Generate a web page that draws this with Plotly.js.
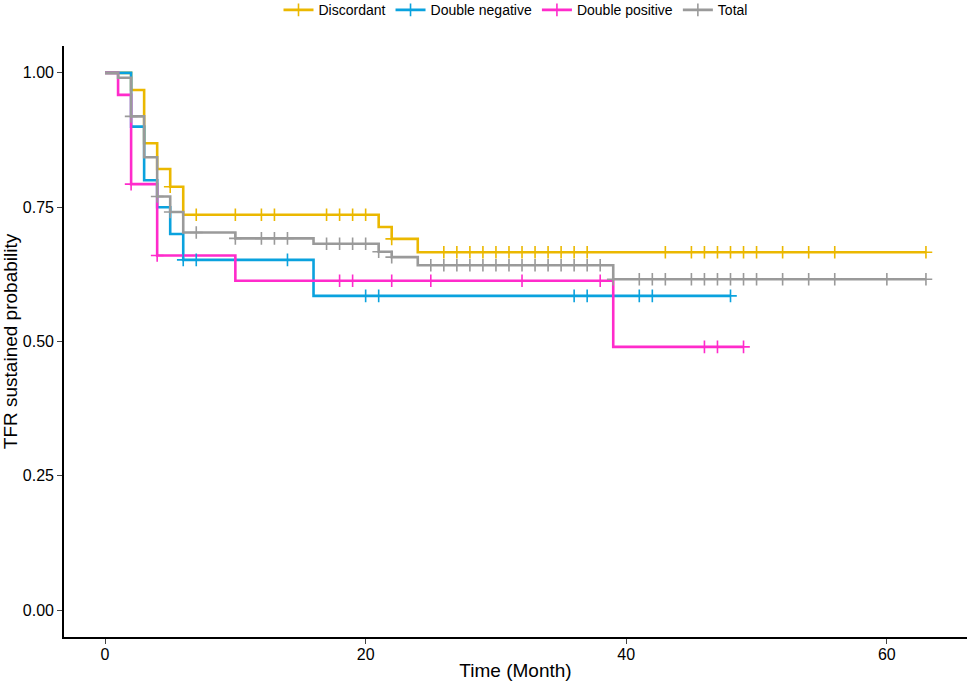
<!DOCTYPE html>
<html>
<head>
<meta charset="utf-8">
<script src="https://cdn.plot.ly/plotly-3.0.1.min.js"></script>
<style>
  html, body { margin: 0; padding: 0; background: #fff; }
  #chart { width: 969px; height: 687px; }
</style>
</head>
<body>
<div id="chart"></div>
<script>
// group names and colours
var groups = ['Discordant', 'Double negative', 'Double positive', 'Total']
var colors = ['#EBB800', '#0AA2DE', '#FF2BCB', '#9A9A9A']

// event times (month) and survival after each step
var discTime = [0, 2, 3, 4, 5, 6, 21, 22, 24, 63]
var discSurv = [1, 0.968, 0.869, 0.821, 0.788, 0.736, 0.713, 0.691, 0.666, 0.666]
var negTime  = [0, 2, 3, 4, 5, 6, 16, 48]
var negSurv  = [1, 0.90, 0.80, 0.75, 0.70, 0.652, 0.585, 0.585]
var posTime  = [0, 1, 2, 4, 10, 39, 49]
var posSurv  = [1, 0.959, 0.793, 0.66, 0.613, 0.49, 0.49]
var totTime  = [0, 1, 2, 3, 4, 5, 6, 10, 16, 21, 22, 24, 39, 63]
var totSurv  = [1, 0.991, 0.919, 0.843, 0.770, 0.741, 0.703, 0.692, 0.682, 0.667, 0.657, 0.642, 0.616, 0.616]

// censored times
var discCens = [5, 7, 10, 12, 13, 17, 18, 19, 20, 22, 26, 27, 28, 29, 30, 31, 32, 33, 34, 35, 36, 37, 43, 45, 46, 47, 48, 49, 50, 52, 54, 56, 63]
var negCens  = [6, 7, 14, 20, 21, 36, 37, 41, 42, 48]
var posCens  = [2, 4, 18, 19, 22, 25, 32, 38, 46, 47, 49]
var totCens  = [2, 4, 5, 7, 10, 12, 13, 14, 17, 18, 19, 20, 21, 22, 25, 26, 27, 28, 29, 30, 31, 32, 33, 34, 35, 36, 37, 38, 39, 41, 42, 43, 45, 46, 47, 48, 49, 50, 52, 54, 56, 60, 63]

// axis ticks
var xTicks = [0, 20, 40, 60]
var yTicks = [0, 0.25, 0.5, 0.75, 1]
var yTickText = ['0.00', '0.25', '0.50', '0.75', '1.00']

var times = [discTime, negTime, posTime, totTime]
var survs = [discSurv, negSurv, posSurv, totSurv]
var cens = [discCens, negCens, posCens, totCens]

// survival value at time t from the step arrays
function survAt(tArr, sArr, t){
    var s = sArr[0]
    for (var i = 0; i < tArr.length; i++){
        if (tArr[i] <= t) s = sArr[i]
    }
    return s
}

var traces = []
groups.forEach((g, i) => {
    traces.push({
        x: times[i], y: survs[i],
        type: 'scatter', mode: 'lines',
        line: {shape: 'hv', color: colors[i], width: 2.6},
        showlegend: false, hoverinfo: 'skip'
    })
})
groups.forEach((g, i) => {
    traces.push({
        x: cens[i], y: cens[i].map(t => survAt(times[i], survs[i], t)),
        type: 'scatter', mode: 'markers',
        marker: {symbol: 'cross-thin', size: 9, color: colors[i], line: {color: colors[i], width: 1.6}},
        showlegend: false, hoverinfo: 'skip'
    })
})
// legend entries
groups.forEach((g, i) => {
    traces.push({
        x: [null], y: [null], name: g,
        type: 'scatter', mode: 'lines+markers',
        line: {color: colors[i], width: 2.6},
        marker: {symbol: 'cross-thin', size: 9, color: colors[i], line: {color: colors[i], width: 1.6}},
        showlegend: true
    })
})

var layout = {
    width: 969, height: 687,
    paper_bgcolor: '#fff', plot_bgcolor: '#fff',
    font: {family: 'Liberation Sans, Arial, sans-serif', color: '#000'},
    margin: {l: 64, r: 2, t: 46, b: 50, autoexpand: false},
    showlegend: true,
    legend: {
        orientation: 'h', x: 0.5, xanchor: 'center', xref: 'paper',
        y: 0.985, yanchor: 'middle', yref: 'container',
        font: {size: 14, color: '#000'}, itemwidth: 30
    },
    xaxis: {
        range: [-3.15, 66.15], tickvals: xTicks, ticks: 'outside', ticklen: 5, tickwidth: 1.2,
        showline: true, linecolor: '#000', linewidth: 1.6, showgrid: false, zeroline: false,
        tickfont: {size: 16, color: '#000'}, ticklabelstandoff: -3,
        title: {text: 'Time (Month)', font: {size: 19, color: '#000'}, standoff: 2}
    },
    yaxis: {
        range: [-0.05, 1.05], tickvals: yTicks, ticktext: yTickText, ticks: 'outside', ticklen: 5, tickwidth: 1.2,
        showline: true, linecolor: '#000', linewidth: 1.6, showgrid: false, zeroline: false,
        tickfont: {size: 16, color: '#000'},
        title: {text: 'TFR sustained probability', font: {size: 19, color: '#000'}, standoff: 4}
    }
}

Plotly.newPlot('chart', traces, layout, {displayModeBar: false})
</script>
</body>
</html>
